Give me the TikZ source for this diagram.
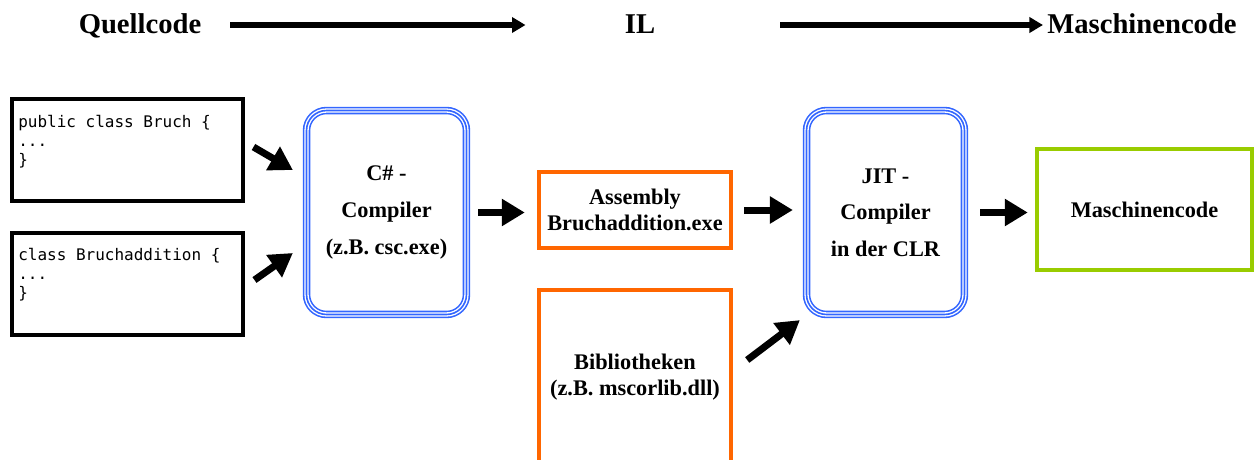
\documentclass[tikz,border=0pt]{standalone}
\usepackage{fontspec}
\setmainfont{Liberation Serif}
\setmonofont{DejaVu Sans Mono}
\usetikzlibrary{calc,arrows.meta,positioning}
\definecolor{netblue}{RGB}{51,102,255}
\definecolor{netorange}{RGB}{255,102,0}
\definecolor{netgreen}{RGB}{153,204,0}
\tikzset{triple/.style={preaction={draw=netblue,line width=0.15cm},
    draw=white,line width=0.086cm,
    postaction={draw=netblue,line width=0.032cm}}}

\begin{document}
\begin{tikzpicture}[x=0.02cm,y=-0.02cm,
    head/.style={font=\fontsize{16.3}{19}\bfseries\selectfont,inner sep=0pt,anchor=base},
    src/.style={draw,line width=0.08cm,minimum width=4.62cm,minimum height=2.04cm},
    code/.style={font=\fontsize{9.1}{10.8}\ttfamily\selectfont,align=left,inner sep=0pt},
    comp/.style={triple,rounded corners=0.4cm,minimum height=4.08cm,align=center,
        font=\fontsize{12.7}{20.8}\bfseries\selectfont},
    file/.style={draw=netorange,line width=0.09cm,minimum width=3.84cm,align=center,
        font=\fontsize{12.7}{14.7}\bfseries\selectfont},
    hdarrow/.style={line width=0.11cm,-{Triangle[length=0.27cm,width=0.3cm]}},
    fat/.style={line width=0.14cm,-{Triangle[length=0.46cm,width=0.52cm]}}]
    \useasboundingbox (0,0) rectangle (1255,460);

    \node[head] (quell) at (140,33) {Quellcode};
    \node[head] (il) at (640,33) {IL};
    \node[head] (mcode) at (1142,33) {Maschinencode};
    \draw[hdarrow] ([shift={(28.5,-8)}]quell.base east) -- ([shift={(-99,-8)}]il.base west);
    \draw[hdarrow] ([shift={(125,-8)}]il.base east) -- ([shift={(-4,-8)}]mcode.base west);

    \node[src] (bruch) at (127.5,150) {};
    \node[code,below right=0.36cm and 0.16cm of bruch.north west] (bruchcode)
        {public class Bruch \{\\...\\\}};
    \node[src] (addition) at (127.5,284) {};
    \node[code,below right=0.34cm and 0.16cm of addition.north west] (additioncode)
        {class Bruchaddition \{\\...\\\}};

    \node[comp,minimum width=3.2cm] (csc) at (386.5,212.5) {C\# -\\Compiler\\(z.B. csc.exe)};
    \node[comp,minimum width=3.16cm] (jit) at (885.5,212.5) {JIT -\\Compiler\\in der CLR};

    \node[file,minimum height=1.52cm] (asm) at (635,210) {Assembly\\Bruchaddition.exe};
    \node[file,minimum height=3.48cm] (bib) at (635,377) {Bibliotheken\\(z.B. mscorlib.dll)};
    \node[draw=netgreen,line width=0.09cm,minimum width=4.3cm,minimum height=2.42cm,
        font=\fontsize{12.7}{14.7}\bfseries\selectfont] (mc) at (1144.5,209.5) {Maschinencode};

    \draw[fat] ([shift={(8.5,-3)}]bruch.east) -- ([shift={(-11.5,-42.5)}]csc.west);
    \draw[fat] ([shift={(9.5,-4)}]addition.east) -- ([shift={(-11.5,40.5)}]csc.west);
    \draw[fat,shorten <=0.19cm,shorten >=0.24cm] (csc.east) -- (csc.east -| asm.west);
    \draw[fat,shorten <=0.22cm,shorten >=0.23cm] (asm.east) -- (asm.east -| jit.west);
    \draw[fat] ([shift={(14,-17)}]bib.east) -- ([shift={(-4.5,3.5)}]jit.south west);
    \draw[fat,shorten <=0.27cm,shorten >=0.14cm] (jit.east) -- (jit.east -| mc.west);
\end{tikzpicture}
\end{document}
